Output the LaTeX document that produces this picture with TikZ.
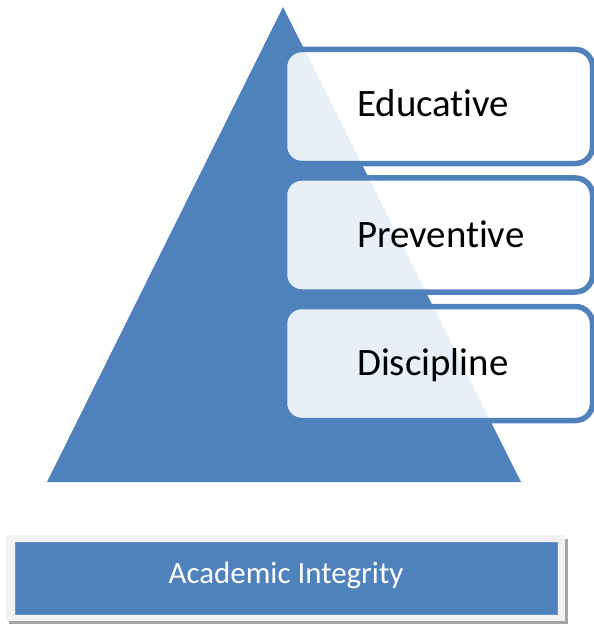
\documentclass[tikz,border=0pt]{standalone}
\usepackage{fontspec}
\setmainfont[RawFeature={-liga;-clig;-calt;-dlig}]{Carlito}
\usepackage{xcolor}
\usepackage{tikz}
\usetikzlibrary{positioning,calc}
\definecolor{pyrblue}{HTML}{4F81BD}
\definecolor{framegray}{HTML}{F2F2F2}
\definecolor{shadowgray}{HTML}{A5A5A5}
\tikzset{levelbox/.style={
  % The shape:
  rectangle,
  rounded corners=17bp,
  % The size:
  minimum width=308bp,
  minimum height=114bp,
  % The border:
  line width=5.5bp,
  draw=pyrblue,
  % The filling:
  fill=white,
  fill opacity=0.88,
  }
}
\tikzset{leveltext/.style={
  % Font:
  font=\fontsize{39}{41}\selectfont,
  text=black,
  inner sep=0pt,
  anchor=base west,
  }
}
\tikzset{basebar/.style={
  % The shape:
  rectangle,
  minimum width=542bp,
  minimum height=72bp,
  % The filling:
  fill=pyrblue,
  draw=pyrblue!85!white,
  thin,
  }
}
\begin{document}
\begin{tikzpicture}[x=1bp,y=-1bp]
  \useasboundingbox (0,0) rectangle (594,625);
  % The pyramid:
  \coordinate (apex)  at (283,7);
  \coordinate (left)  at (47,482);
  \coordinate (right) at (521,482);
  \fill[pyrblue] (apex) -- (left) -- (right) -- cycle;

  % The levels:
  \node (edu)  [levelbox] at (438.5,106.5) {};
  \node (prev) [levelbox] at (438.5,235)   {};
  \node (disc) [levelbox] at (438.5,363.5) {};
  \node (edutxt)  [leveltext] at (357,117) {Educative};
  \node (prevtxt) [leveltext] at (357,247) {Preventive};
  \node (disctxt) [leveltext] at (357,375) {Discipline};

  % The base:
  \fill[shadowgray] (9,539) rectangle (567.5,624);
  \node (frame) [fill=framegray, minimum width=559bp, minimum height=86bp,
        inner sep=0pt] at (285.5,578) {};
  \node (bar) [basebar] at (286,578.5) {};
  \node (bartxt) [font=\fontsize{31}{33}\selectfont, text=white, inner sep=0pt,
        anchor=base] at (286,583) {Academic Integrity};
\end{tikzpicture}
\end{document}
